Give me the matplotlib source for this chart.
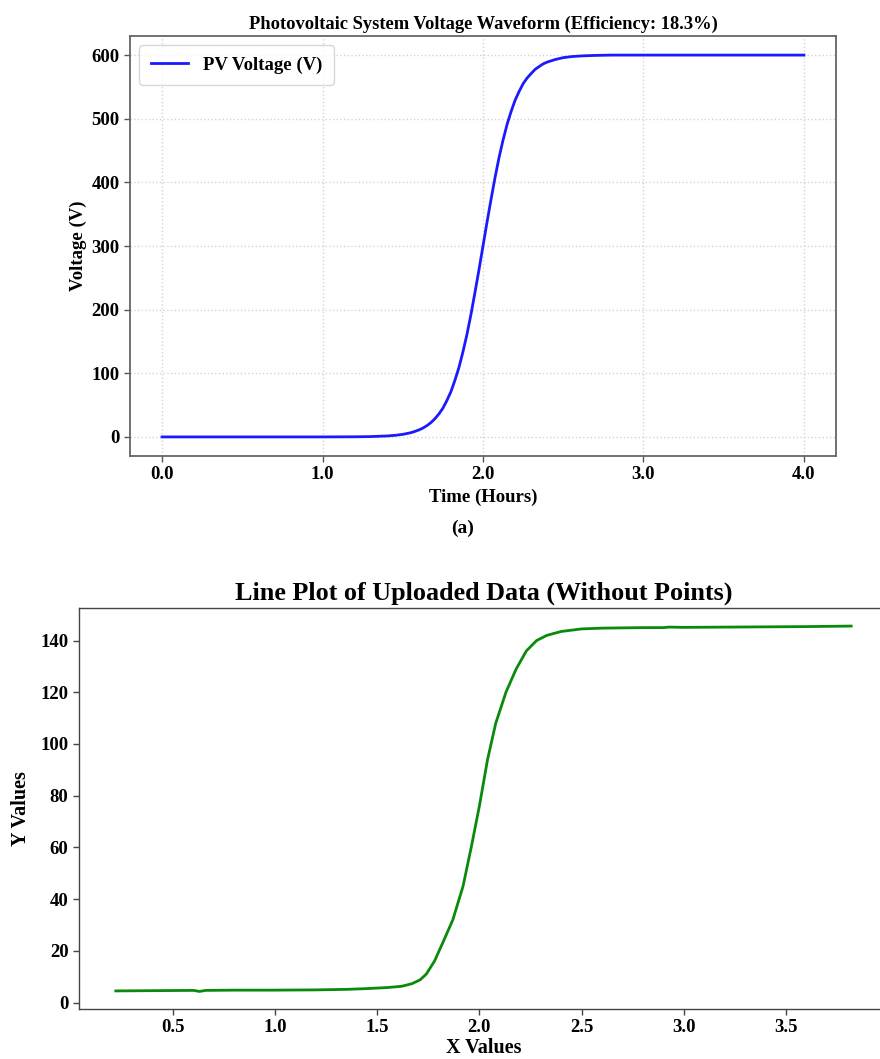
import matplotlib
matplotlib.use("Agg")
import matplotlib.pyplot as plt

# ---- data: top panel (PV voltage) ----
t_hours = [0.0, 0.2, 0.4, 0.6, 0.8, 1.0, 1.1, 1.2, 1.3, 1.4, 1.45, 1.5, 1.55, 1.575,
           1.6, 1.625, 1.65, 1.675, 1.7, 1.725, 1.75, 1.775, 1.8, 1.825, 1.85,
           1.875, 1.9, 1.925, 1.95, 1.975, 2.0, 2.025, 2.05, 2.075, 2.1, 2.125,
           2.15, 2.175, 2.2, 2.225, 2.25, 2.275, 2.3, 2.325, 2.35, 2.375, 2.4,
           2.45, 2.5, 2.55, 2.6, 2.65, 2.7, 2.8, 3.0, 3.5, 4.0]
pv_voltage = [0, 0, 0, 0, 0, 0, 0.1, 0.2, 0.5, 1.5, 2.4, 4.0, 6.6, 8.6,
              10.9, 13.8, 17.6, 22.4, 28.4, 36.1, 45, 57.2, 71, 88.9, 109,
              133.6, 161, 192.5, 227, 262.7, 300, 337.3, 373, 407.5, 439, 466.4,
              491, 511.2, 529, 542.8, 555, 564, 571, 577.6, 582, 586.2, 589,
              593, 596, 597.6, 598.5, 599.1, 599.5, 600, 600, 600, 600]
top_xticks = [0.0, 1.0, 2.0, 3.0, 4.0]
top_yticks = [0, 100, 200, 300, 400, 500, 600]

# ---- data: bottom panel (uploaded data) ----
x_values = [0.22, 0.4, 0.6, 0.63, 0.66, 0.8, 1.0, 1.2, 1.35, 1.45, 1.55, 1.62,
            1.67, 1.71, 1.74, 1.78, 1.82, 1.87, 1.92, 1.96, 2.0, 2.04, 2.08,
            2.13, 2.18, 2.23, 2.28, 2.33, 2.4, 2.5, 2.6, 2.8, 2.9, 2.93, 3.0,
            3.2, 3.4, 3.6, 3.82]
y_values = [4.5, 4.6, 4.7, 4.3, 4.7, 4.8, 4.8, 4.9, 5.1, 5.4, 5.8, 6.3,
            7.3, 8.8, 11, 16, 23, 32, 45, 60, 76, 94, 108,
            120, 129, 136, 140, 142, 143.5, 144.5, 144.8, 145, 145, 145.2, 145.1,
            145.2, 145.3, 145.4, 145.6]
bot_xticks = [0.5, 1.0, 1.5, 2.0, 2.5, 3.0, 3.5]
bot_yticks = [0, 20, 40, 60, 80, 100, 120, 140]

plt.rcParams['font.family'] = ['Liberation Serif', 'DejaVu Serif']
plt.rcParams['font.weight'] = 'bold'

fig = plt.figure(figsize=(8.8, 10.59), dpi=100)

# ---- top axes ----
ax1 = fig.add_axes([0.1477, 0.5694, 0.8023, 0.3966])
ax1.plot(t_hours, pv_voltage, color='#1a1aff', lw=2.0, label='PV Voltage (V)')
ax1.set_xlim(-0.2, 4.2)
ax1.set_ylim(-30, 630)
ax1.set_xticks(top_xticks)
ax1.set_xticklabels([f"{v:.1f}" for v in top_xticks])
ax1.set_yticks(top_yticks)
ax1.grid(True, linestyle=':', color='#c8c8c8', lw=1.0, alpha=0.8)
for s in ax1.spines.values():
    s.set_color('#666666')
    s.set_linewidth(1.3)
ax1.tick_params(labelsize=13.5, width=1, length=4, color='#555555')
for lab in ax1.get_xticklabels() + ax1.get_yticklabels():
    lab.set_fontweight('bold')
ax1.set_title('Photovoltaic System Voltage Waveform (Efficiency: 18.3%)',
              fontsize=13.3, fontweight='bold', pad=5)
ax1.set_xlabel('Time (Hours)', fontsize=13.5, fontweight='bold', labelpad=4)
ax1.set_ylabel('Voltage (V)', fontsize=13.5, fontweight='bold', labelpad=3)
leg = ax1.legend(loc='upper left', fontsize=13.5, frameon=True, fancybox=True,
                 borderpad=0.6, handlelength=2.0)
leg.get_frame().set_edgecolor('#cccccc')
for txt in leg.get_texts():
    txt.set_fontweight('bold')

fig.text(0.526, 0.501, '(a)', ha='center', va='center', fontsize=14,
         fontweight='bold')

# ---- bottom axes ----
ax2 = fig.add_axes([0.0898, 0.0472, 0.9192, 0.3787])
ax2.plot(x_values, y_values, color='#0a8a0a', lw=2.0)
ax2.set_xlim(0.04, 4.0)
ax2.set_ylim(-2.5, 152.6)
ax2.set_xticks(bot_xticks)
ax2.set_xticklabels([f"{v:.1f}" for v in bot_xticks])
ax2.set_yticks(bot_yticks)
for s in ax2.spines.values():
    s.set_color('#444444')
    s.set_linewidth(1.0)
ax2.tick_params(labelsize=13.5, width=1, length=4, color='#444444')
for lab in ax2.get_xticklabels() + ax2.get_yticklabels():
    lab.set_fontweight('bold')
ax2.set_title('Line Plot of Uploaded Data (Without Points)', fontsize=18.8,
              fontweight='bold', pad=6)
ax2.set_xlabel('X Values', fontsize=14.5, fontweight='bold', labelpad=1)
ax2.set_ylabel('Y Values', fontsize=14.5, fontweight='bold', labelpad=7)

fig.savefig('out.png', dpi=100)
